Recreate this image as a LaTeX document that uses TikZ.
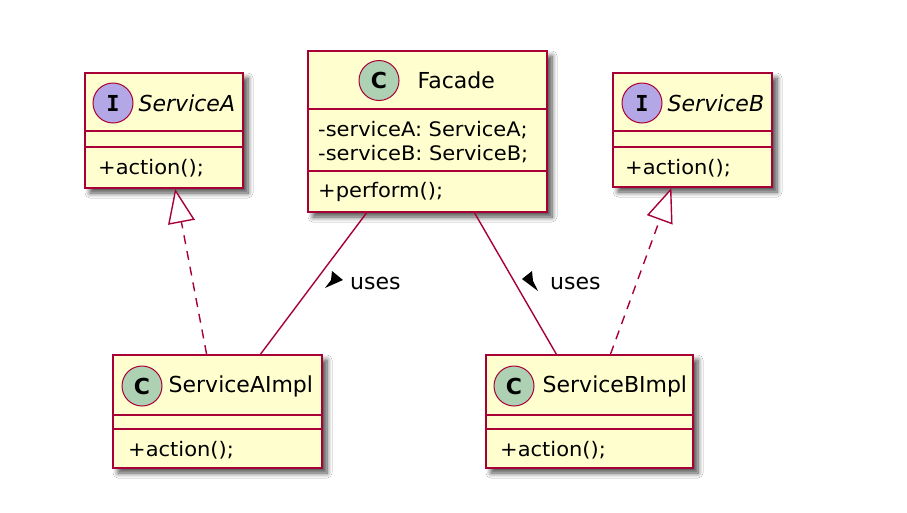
\documentclass[tikz,border=0pt]{standalone}
\usepackage{fontspec}
\setmainfont{DejaVu Sans}
\newfontfamily\memberfont[FakeStretch=1.05]{DejaVu Sans}
\newfontfamily\iconfont{DejaVu Sans Mono}
\usetikzlibrary{positioning,arrows.meta,shadows.blur}
\definecolor{umlfill}{HTML}{FEFECE}
\definecolor{umlline}{HTML}{A80036}
\definecolor{classicon}{HTML}{ADD1B2}
\definecolor{ifaceicon}{HTML}{B4A7E5}
\tikzset{
  umlbox/.style={draw=umlline, fill=umlfill, line width=1.8pt, inner sep=0pt,
    blur shadow={shadow xshift=5pt, shadow yshift=-5pt, shadow blur radius=5pt,
      shadow blur steps=8, shadow opacity=70}},
  divider/.style={draw=umlline, line width=1.3pt},
  badge/.style={circle, draw=umlline, line width=1pt, minimum size=40pt, inner sep=0pt,
    font=\fontsize{22}{22}\selectfont\bfseries},
  title/.style={font=\fontsize{22}{26}\selectfont, inner sep=0pt},
  member/.style={font=\memberfont\fontsize{20}{24}\selectfont, inner sep=0pt, anchor=west},
  link/.style={draw=umlline, line width=1.4pt},
  realize/.style={link, dash pattern=on 9pt off 7pt,
    -{Triangle[open, length=34pt, width=27pt, fill=white]}},
  label/.style={font=\fontsize{22}{26}\selectfont, inner sep=0pt, anchor=west}
}
\begin{document}
\begin{tikzpicture}[x=1pt, y=-1pt]
  \fill[white] (0,0) rectangle (907,512);
  \useasboundingbox (0,0) rectangle (907,512);

  % interface ServiceA
  \node[umlbox, minimum width=158pt, minimum height=115pt] (servicea) at (164,130.5) {};
  \draw[divider] ([yshift=-59pt]servicea.north west) -- ([yshift=-59pt]servicea.north east);
  \draw[divider] ([yshift=-75pt]servicea.north west) -- ([yshift=-75pt]servicea.north east);
  \node[badge, fill=ifaceicon] (iconA) at (113,103) {\iconfont I};
  \node[title, right=5pt of iconA] (nameA) {\itshape ServiceA};
  \node[member] (actionA) at (98,168) {+action();};

  % class Facade
  \node[umlbox, minimum width=239pt, minimum height=161pt] (facade) at (427.5,131.5) {};
  \draw[divider] ([yshift=-59pt]facade.north west) -- ([yshift=-59pt]facade.north east);
  \draw[divider] ([yshift=-121pt]facade.north west) -- ([yshift=-121pt]facade.north east);
  \node[badge, fill=classicon] (iconF) at (379,80.5) {C};
  \node[title, right=18pt of iconF] (nameF) {Facade};
  \node[member] (fieldA) at (318,130) {-serviceA: ServiceA;};
  \node[member] (fieldB) at (318,154) {-serviceB: ServiceB;};
  \node[member] (perform) at (318,192) {+perform();};

  % interface ServiceB
  \node[umlbox, minimum width=159pt, minimum height=114pt] (serviceb) at (692.5,130) {};
  \draw[divider] ([yshift=-59pt]serviceb.north west) -- ([yshift=-59pt]serviceb.north east);
  \draw[divider] ([yshift=-75pt]serviceb.north west) -- ([yshift=-75pt]serviceb.north east);
  \node[badge, fill=ifaceicon] (iconB) at (642,103) {\iconfont I};
  \node[title, right=5pt of iconB] (nameB) {\itshape ServiceB};
  \node[member] (actionB) at (625,168) {+action();};

  % class ServiceAImpl
  \node[umlbox, minimum width=209pt, minimum height=113pt] (saimpl) at (217.5,411.5) {};
  \draw[divider] ([yshift=-61pt]saimpl.north west) -- ([yshift=-61pt]saimpl.north east);
  \draw[divider] ([yshift=-75pt]saimpl.north west) -- ([yshift=-75pt]saimpl.north east);
  \node[badge, fill=classicon] (iconAI) at (142,386) {C};
  \node[title, right=6pt of iconAI] (nameAI) {ServiceAImpl};
  \node[member] (actionAI) at (128,450) {+action();};

  % class ServiceBImpl
  \node[umlbox, minimum width=207pt, minimum height=113pt] (sbimpl) at (589.5,411.5) {};
  \draw[divider] ([yshift=-61pt]sbimpl.north west) -- ([yshift=-61pt]sbimpl.north east);
  \draw[divider] ([yshift=-75pt]sbimpl.north west) -- ([yshift=-75pt]sbimpl.north east);
  \node[badge, fill=classicon] (iconBI) at (514,386) {C};
  \node[title, right=8pt of iconBI] (nameBI) {ServiceBImpl};
  \node[member] (actionBI) at (500,450) {+action();};

  % relations
  \draw[realize] (saimpl) -- (servicea);
  \draw[realize] (sbimpl) -- (serviceb);
  \draw[link] (facade) -- (saimpl);
  \draw[link] (facade) -- (sbimpl);

  % labels
  \node[label] (usesA) at (350,283) {uses};
  \fill (343,280) -- (332,271) -- (331,280) -- (325,288) -- cycle;
  \node[label] (usesB) at (550,283) {uses};
  \fill (522,279) -- (532,271) -- (533,281) -- (538,291) -- cycle;
\end{tikzpicture}
\end{document}
